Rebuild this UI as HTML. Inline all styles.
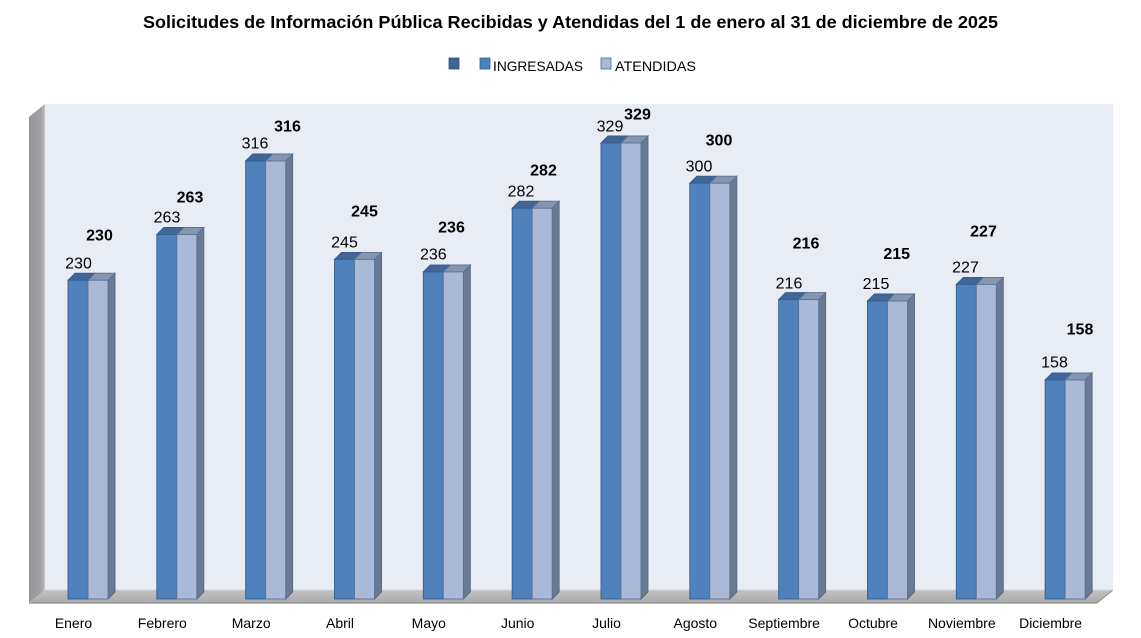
<!DOCTYPE html>
<html>
<head>
<meta charset="utf-8">
<style>
  html,body{margin:0;padding:0;background:#fff;}
  svg{display:block;}
  text{font-family:"Liberation Sans",sans-serif;}
  .sd{fill:#6b7a93;stroke:#56667f;stroke-width:0.9;}
  .td{fill:#3f6697;stroke:#385d8a;stroke-width:0.9;}
  .tl{fill:#8596b0;stroke:#5d7190;stroke-width:0.9;}
  .fd{fill:#4f81bd;stroke:#385d8a;stroke-width:0.9;}
  .fl{fill:#aab9d8;stroke:#5a7396;stroke-width:0.9;}
</style>
</head>
<body>
<svg width="1141" height="638" viewBox="0 0 1141 638" xmlns="http://www.w3.org/2000/svg">
  <defs>
    <linearGradient id="lw" x1="0" y1="0" x2="1" y2="0">
      <stop offset="0" stop-color="#949496"/>
      <stop offset="0.8" stop-color="#a4a4a6"/>
      <stop offset="1" stop-color="#c4c4c6"/>
    </linearGradient>
    <linearGradient id="flg" x1="0" y1="0" x2="0" y2="1">
      <stop offset="0" stop-color="#c2c2c2"/>
      <stop offset="1" stop-color="#aaaaaa"/>
    </linearGradient>
  </defs>

  <!-- Title -->
  <text x="143" y="28" font-size="17.5" font-weight="bold" fill="#000" textLength="855" lengthAdjust="spacingAndGlyphs">Solicitudes de Información Pública Recibidas y Atendidas del 1 de enero al 31 de diciembre de 2025</text>

  <!-- Legend -->
  <rect x="449" y="58" width="10" height="11" fill="#3d6596" stroke="#2f5080" stroke-width="0.8"/>
  <rect x="480" y="58" width="10" height="11" fill="#4f81bd" stroke="#385d8a" stroke-width="0.8"/>
  <text x="493" y="71" font-size="14" fill="#000" textLength="90" lengthAdjust="spacingAndGlyphs">INGRESADAS</text>
  <rect x="601" y="58" width="10" height="11" fill="#aab9d8" stroke="#4a6a95" stroke-width="0.8"/>
  <text x="615" y="71" font-size="14" fill="#000" textLength="81" lengthAdjust="spacingAndGlyphs">ATENDIDAS</text>

  <!-- Back wall -->
  <rect x="45" y="104" width="1068" height="486" fill="#e8ecf5"/>
  <!-- Left wall -->
  <polygon points="29,117 45,104 45,590 29,603" fill="url(#lw)"/>
  <!-- Floor -->
  <polygon points="29,603 45,590 1113,590 1097,603" fill="url(#flg)"/>
  <line x1="29" y1="603" x2="1097" y2="603" stroke="#8e8e8e" stroke-width="1.2"/>
  <line x1="1097" y1="603" x2="1113" y2="590" stroke="#8e8e8e" stroke-width="1"/>
  <line x1="45" y1="590" x2="1113" y2="590" stroke="#d4d4d4" stroke-width="1"/>

  <!-- Bars -->
  <g transform="translate(68,0)">
    <polygon class="sd" points="40,280.2 47,273.2 47,592 40,599"/>
    <polygon class="td" points="0,280.2 7,273.2 27,273.2 20,280.2"/>
    <polygon class="tl" points="20,280.2 27,273.2 47,273.2 40,280.2"/>
    <rect class="fd" x="0" y="280.2" width="20" height="318.8"/>
    <rect class="fl" x="20" y="280.2" width="20" height="318.8"/>
  </g>
  <g transform="translate(156.83,0)">
    <polygon class="sd" points="40,234.5 47,227.5 47,592 40,599"/>
    <polygon class="td" points="0,234.5 7,227.5 27,227.5 20,234.5"/>
    <polygon class="tl" points="20,234.5 27,227.5 47,227.5 40,234.5"/>
    <rect class="fd" x="0" y="234.5" width="20" height="364.5"/>
    <rect class="fl" x="20" y="234.5" width="20" height="364.5"/>
  </g>
  <g transform="translate(245.66,0)">
    <polygon class="sd" points="40,161 47,154 47,592 40,599"/>
    <polygon class="td" points="0,161 7,154 27,154 20,161"/>
    <polygon class="tl" points="20,161 27,154 47,154 40,161"/>
    <rect class="fd" x="0" y="161" width="20" height="438"/>
    <rect class="fl" x="20" y="161" width="20" height="438"/>
  </g>
  <g transform="translate(334.49,0)">
    <polygon class="sd" points="40,259.4 47,252.4 47,592 40,599"/>
    <polygon class="td" points="0,259.4 7,252.4 27,252.4 20,259.4"/>
    <polygon class="tl" points="20,259.4 27,252.4 47,252.4 40,259.4"/>
    <rect class="fd" x="0" y="259.4" width="20" height="339.6"/>
    <rect class="fl" x="20" y="259.4" width="20" height="339.6"/>
  </g>
  <g transform="translate(423.32,0)">
    <polygon class="sd" points="40,271.9 47,264.9 47,592 40,599"/>
    <polygon class="td" points="0,271.9 7,264.9 27,264.9 20,271.9"/>
    <polygon class="tl" points="20,271.9 27,264.9 47,264.9 40,271.9"/>
    <rect class="fd" x="0" y="271.9" width="20" height="327.1"/>
    <rect class="fl" x="20" y="271.9" width="20" height="327.1"/>
  </g>
  <g transform="translate(512.15,0)">
    <polygon class="sd" points="40,208.2 47,201.2 47,592 40,599"/>
    <polygon class="td" points="0,208.2 7,201.2 27,201.2 20,208.2"/>
    <polygon class="tl" points="20,208.2 27,201.2 47,201.2 40,208.2"/>
    <rect class="fd" x="0" y="208.2" width="20" height="390.8"/>
    <rect class="fl" x="20" y="208.2" width="20" height="390.8"/>
  </g>
  <g transform="translate(600.98,0)">
    <polygon class="sd" points="40,143 47,136 47,592 40,599"/>
    <polygon class="td" points="0,143 7,136 27,136 20,143"/>
    <polygon class="tl" points="20,143 27,136 47,136 40,143"/>
    <rect class="fd" x="0" y="143" width="20" height="456"/>
    <rect class="fl" x="20" y="143" width="20" height="456"/>
  </g>
  <g transform="translate(689.81,0)">
    <polygon class="sd" points="40,183.2 47,176.2 47,592 40,599"/>
    <polygon class="td" points="0,183.2 7,176.2 27,176.2 20,183.2"/>
    <polygon class="tl" points="20,183.2 27,176.2 47,176.2 40,183.2"/>
    <rect class="fd" x="0" y="183.2" width="20" height="415.8"/>
    <rect class="fl" x="20" y="183.2" width="20" height="415.8"/>
  </g>
  <g transform="translate(778.64,0)">
    <polygon class="sd" points="40,299.6 47,292.6 47,592 40,599"/>
    <polygon class="td" points="0,299.6 7,292.6 27,292.6 20,299.6"/>
    <polygon class="tl" points="20,299.6 27,292.6 47,292.6 40,299.6"/>
    <rect class="fd" x="0" y="299.6" width="20" height="299.4"/>
    <rect class="fl" x="20" y="299.6" width="20" height="299.4"/>
  </g>
  <g transform="translate(867.47,0)">
    <polygon class="sd" points="40,301 47,294 47,592 40,599"/>
    <polygon class="td" points="0,301 7,294 27,294 20,301"/>
    <polygon class="tl" points="20,301 27,294 47,294 40,301"/>
    <rect class="fd" x="0" y="301" width="20" height="298"/>
    <rect class="fl" x="20" y="301" width="20" height="298"/>
  </g>
  <g transform="translate(956.3,0)">
    <polygon class="sd" points="40,284.4 47,277.4 47,592 40,599"/>
    <polygon class="td" points="0,284.4 7,277.4 27,277.4 20,284.4"/>
    <polygon class="tl" points="20,284.4 27,277.4 47,277.4 40,284.4"/>
    <rect class="fd" x="0" y="284.4" width="20" height="314.6"/>
    <rect class="fl" x="20" y="284.4" width="20" height="314.6"/>
  </g>
  <g transform="translate(1045.13,0)">
    <polygon class="sd" points="40,380 47,373 47,592 40,599"/>
    <polygon class="td" points="0,380 7,373 27,373 20,380"/>
    <polygon class="tl" points="20,380 27,373 47,373 40,380"/>
    <rect class="fd" x="0" y="380" width="20" height="219"/>
    <rect class="fl" x="20" y="380" width="20" height="219"/>
  </g>

  <!-- Category labels -->
  <g font-size="14" fill="#000" text-anchor="middle">
    <text x="73.5" y="628">Enero</text>
    <text x="162.3" y="628">Febrero</text>
    <text x="251.2" y="628">Marzo</text>
    <text x="340" y="628">Abril</text>
    <text x="428.8" y="628">Mayo</text>
    <text x="517.7" y="628">Junio</text>
    <text x="606.5" y="628">Julio</text>
    <text x="695.3" y="628">Agosto</text>
    <text x="784.1" y="628">Septiembre</text>
    <text x="873" y="628">Octubre</text>
    <text x="961.8" y="628">Noviembre</text>
    <text x="1050.6" y="628">Diciembre</text>
  </g>

  <!-- Plain value labels -->
  <g font-size="16" fill="#000" text-anchor="middle">
    <text x="78.5" y="268.4">230</text>
    <text x="167" y="222.4">263</text>
    <text x="255" y="148.7">316</text>
    <text x="344.5" y="247.4">245</text>
    <text x="433.3" y="259.7">236</text>
    <text x="521" y="196.4">282</text>
    <text x="610" y="131.7">329</text>
    <text x="699" y="171.7">300</text>
    <text x="789" y="288.4">216</text>
    <text x="876" y="289">215</text>
    <text x="965.5" y="272.4">227</text>
    <text x="1054.5" y="367.7">158</text>
  </g>

  <!-- Bold value labels -->
  <g font-size="16" font-weight="bold" fill="#000" text-anchor="middle">
    <text x="99.5" y="240.7">230</text>
    <text x="190" y="202.4">263</text>
    <text x="287.5" y="131.4">316</text>
    <text x="364.5" y="216.4">245</text>
    <text x="451.5" y="232.4">236</text>
    <text x="543.5" y="175.7">282</text>
    <text x="637.5" y="119.7">329</text>
    <text x="719" y="145.7">300</text>
    <text x="806" y="248.4">216</text>
    <text x="896.7" y="259">215</text>
    <text x="983.5" y="236.4">227</text>
    <text x="1080" y="334.7">158</text>
  </g>
</svg>
</body>
</html>
